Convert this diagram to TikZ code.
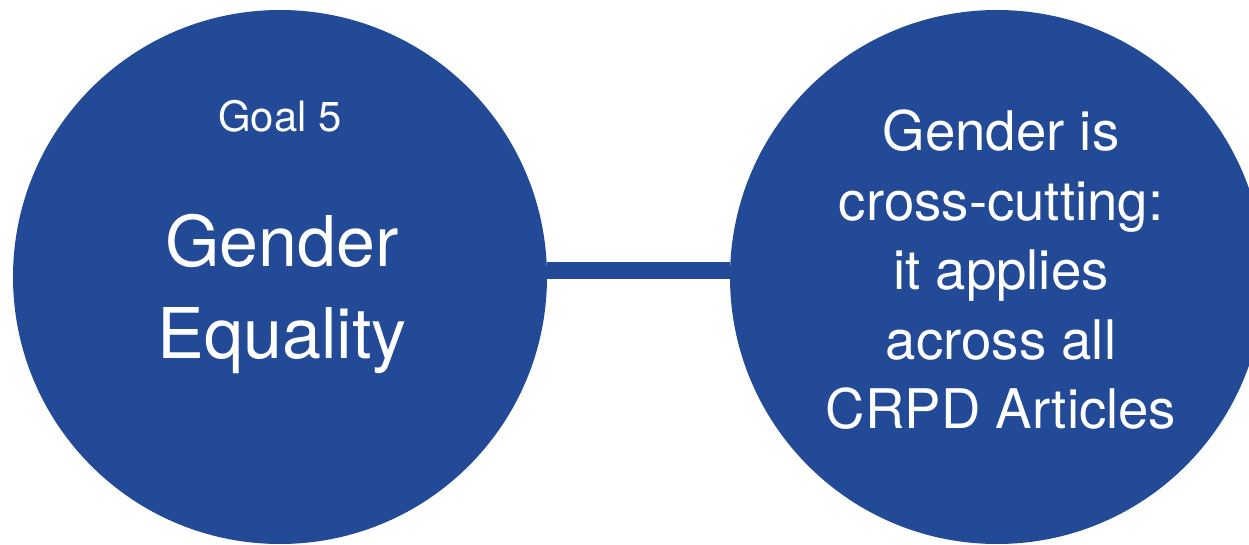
\documentclass[tikz,border=0pt]{standalone}
\usepackage{fontspec}
\setmainfont{TeX Gyre Heros}
\definecolor{goalblue}{RGB}{34,74,151}
\tikzset{
  disc/.style={circle, fill=goalblue, draw=none, minimum size=267pt, inner sep=0pt},
  label/.style={text=white, inner sep=0pt, align=center},
  link/.style={draw=goalblue, line width=8.5pt}
}
\begin{document}
\begin{tikzpicture}[x=0.5pt,y=-0.5pt]
\useasboundingbox (0,0) rectangle (1249,545);
\clip (0,0) rectangle (1249,545);
\node[disc] (L) at (280,277) {};
\node[disc] (R) at (997,277) {};
\draw[link] ([yshift=3pt]L.east) -- ([yshift=3pt]R.west);
\node[label, anchor=base, font=\fontsize{20.9}{25}\selectfont] (goal) at (280,131.7) {Goal 5};
\node[label, anchor=base, font=\fontsize{35}{46}\selectfont] (ge) at (282,358.3) {Gender\\Equality};
\node[label, anchor=base, font=\fontsize{27.3}{34.7}\selectfont] (cc) at (1001,428.5) {Gender is\\cross-cutting:\\it applies\\across all\\CRPD Articles};
\end{tikzpicture}
\end{document}
